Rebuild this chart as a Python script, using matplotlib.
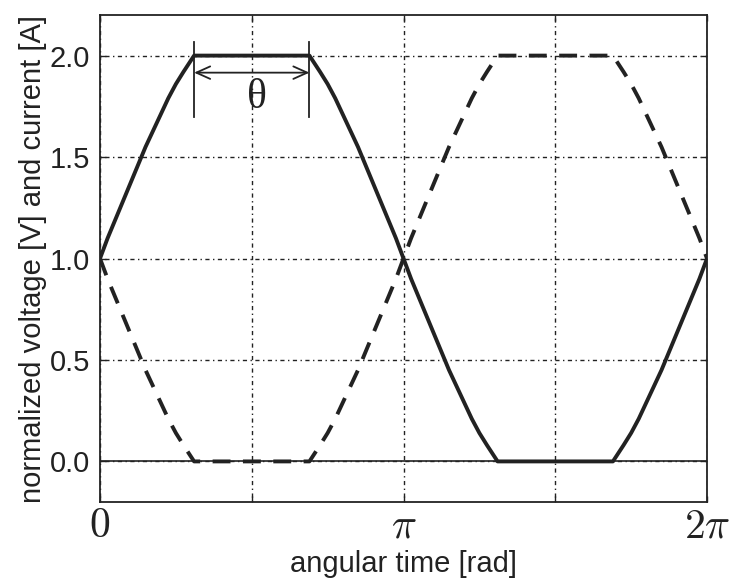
import numpy as np
import matplotlib
matplotlib.use("Agg")
import matplotlib.pyplot as plt

# angular time in units of pi
x_pi = [0.000, 0.025, 0.050, 0.075, 0.100, 0.125, 0.150, 0.175, 0.200, 0.225,
        0.250, 0.275, 0.310, 0.690, 0.725, 0.750, 0.775, 0.800, 0.825, 0.850,
        0.875, 0.900, 0.925, 0.950, 0.975, 1.000, 1.025, 1.050, 1.075, 1.100,
        1.125, 1.150, 1.175, 1.200, 1.225, 1.250, 1.275, 1.310, 1.690, 1.725,
        1.750, 1.775, 1.800, 1.825, 1.850, 1.875, 1.900, 1.925, 1.950, 1.975,
        2.000]
voltage = [1.00, 1.10, 1.19, 1.28, 1.37, 1.46, 1.55, 1.63, 1.71, 1.79,
           1.86, 1.92, 2.00, 2.00, 1.92, 1.86, 1.79, 1.71, 1.63, 1.55,
           1.46, 1.37, 1.28, 1.19, 1.10, 1.00, 0.90, 0.81, 0.72, 0.63,
           0.54, 0.45, 0.37, 0.29, 0.21, 0.14, 0.08, 0.00, 0.00, 0.08,
           0.14, 0.21, 0.29, 0.37, 0.45, 0.54, 0.63, 0.72, 0.81, 0.90,
           1.00]
current = [1.00, 0.90, 0.81, 0.72, 0.63, 0.54, 0.45, 0.37, 0.29, 0.21,
           0.14, 0.08, 0.00, 0.00, 0.08, 0.14, 0.21, 0.29, 0.37, 0.45,
           0.54, 0.63, 0.72, 0.81, 0.90, 1.00, 1.10, 1.19, 1.28, 1.37,
           1.46, 1.55, 1.63, 1.71, 1.79, 1.86, 1.92, 2.00, 2.00, 1.92,
           1.86, 1.79, 1.71, 1.63, 1.55, 1.46, 1.37, 1.28, 1.19, 1.10,
           1.00]
theta_span = [0.31, 0.69]  # flat top, in units of pi
x_ticks = [0, 0.5, 1.0, 1.5, 2.0]
x_ticklabels = [r"$0$", "", r"$\pi$", "", r"$2\pi$"]
y_ticks = [0.0, 0.5, 1.0, 1.5, 2.0]

plt.rcParams.update({"font.family": ["Liberation Sans", "DejaVu Sans"],
                     "mathtext.fontset": "cm"})
INK = "#222222"

fig = plt.figure(figsize=(7.3, 5.78), dpi=100)
ax = fig.add_axes([0.137, 0.1315, 0.8315, 0.8425])

x = np.array(x_pi) * np.pi
ax.plot(x, voltage, color=INK, lw=2.8, solid_joinstyle="round", zorder=4)
ax.plot(x, current, color=INK, lw=2.8, dashes=(4.6, 3.2), zorder=4)
ax.axhline(0, color=INK, lw=1.2, zorder=3)

# theta marker
x0, x1 = np.array(theta_span) * np.pi
for xv in (x0, x1):
    ax.plot([xv, xv], [1.695, 2.065], color=INK, lw=1.3, zorder=5)
ax.annotate("", xy=(x0, 1.916), xytext=(x1, 1.916),
            arrowprops=dict(arrowstyle="<->,head_length=1.0,head_width=0.45",
                            color=INK, lw=1.3, shrinkA=0, shrinkB=0), zorder=5)
ax.text(0.5 * (x0 + x1) + 0.05, 1.79, "θ", fontsize=30, ha="center",
        va="center", color=INK, family=["Liberation Serif", "DejaVu Serif"])

ax.set_xlim(0, 2 * np.pi)
ax.set_ylim(-0.2, 2.2)
ax.set_xticks(np.array(x_ticks) * np.pi)
ax.set_xticklabels(x_ticklabels, fontsize=30)
ax.set_yticks(y_ticks)
ax.set_yticklabels([f"{v:.1f}" for v in y_ticks], fontsize=21)
ax.tick_params(axis="both", direction="in", length=4, width=1.0, color=INK,
               labelcolor=INK, top=True, right=True)
ax.tick_params(axis="x", pad=3)
ax.tick_params(axis="y", pad=7)
ax.grid(True, color=INK, lw=1.0, linestyle=(0, (1, 2.5, 3, 2.5)))
for s in ax.spines.values():
    s.set_color(INK)
    s.set_linewidth(1.3)

ax.set_xlabel("angular time [rad]", fontsize=21, color=INK, labelpad=3)
ax.set_ylabel("normalized voltage [V] and current [A]", fontsize=21, color=INK,
              labelpad=2)

fig.savefig("out.png", dpi=100)
